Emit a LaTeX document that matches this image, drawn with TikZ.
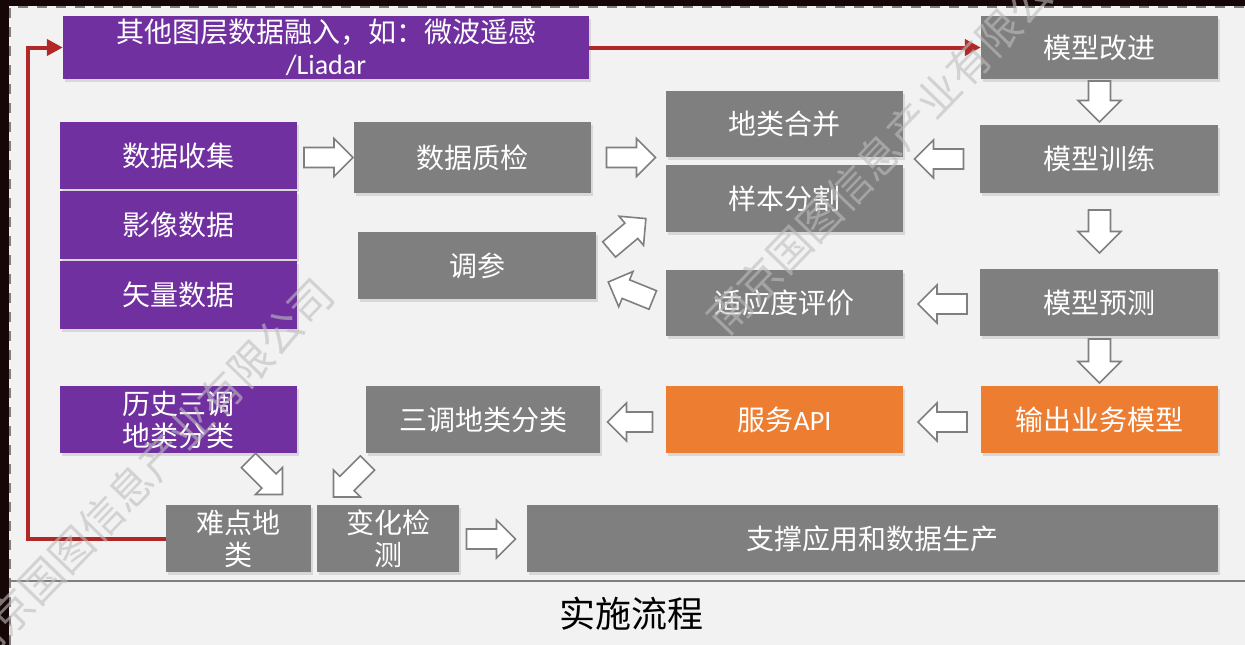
\documentclass[tikz,border=0pt]{standalone}
\usepackage{fontspec}
\setmainfont{Carlito}
\newfontfamily\cjk{Noto Sans CJK SC}
\newfontfamily\lat{Carlito}
\usetikzlibrary{arrows.meta,shadows}
\definecolor{bgc}{RGB}{242,242,242}
\definecolor{darkc}{RGB}{22,6,6}
\definecolor{boxgray}{RGB}{127,127,127}
\definecolor{boxpurple}{RGB}{112,48,160}
\definecolor{boxorange}{RGB}{237,125,49}
\definecolor{redc}{RGB}{176,40,40}
\definecolor{wmc}{RGB}{190,190,190}
\newcommand\blockarr[6]{%
  \draw[barrow, shift={(#1,#2)}, rotate=#3]
    (-#4/2,-#5) -- (#4/2-#6,-#5) -- (#4/2-#6,-#6) -- (#4/2,0) --
    (#4/2-#6,#6) -- (#4/2-#6,#5) -- (-#4/2,#5) -- cycle;}
\begin{document}
\begin{tikzpicture}[x=1pt,y=-1pt,
  box/.style={draw=none, text=white, align=center, inner sep=0pt,
    font=\cjk\fontsize{28}{32}\selectfont,
    drop shadow={shadow xshift=1.5pt,shadow yshift=-2.5pt,opacity=0.22}},
  graybox/.style={box, fill=boxgray},
  purplebox/.style={box, fill=boxpurple},
  orangebox/.style={box, fill=boxorange},
  barrow/.style={draw=boxgray, fill=white, line width=1.6pt, line join=miter},
  redline/.style={draw=redc, line width=4pt, -{Triangle[length=16pt,width=16pt]}},
  wm/.style={text=wmc, text opacity=0.6, inner sep=0pt, font=\cjk\fontsize{43}{43}\selectfont}]
\useasboundingbox (0,0) rectangle (1245,645);
\fill[darkc] (0,0) rectangle (1245,645);
\fill[bgc] (9,6) rectangle (1245,645);
\draw[boxgray, line width=2pt, dash pattern=on 10pt off 9pt] (10,645) -- (10,7) -- (1245,7);
\draw[boxgray, line width=2pt] (10,581) -- (1245,581);
\node[font=\cjk\fontsize{36}{40}\selectfont, inner sep=0pt] (title) at (631,614) {实施流程};

% nodes
\node[purplebox, minimum width=526, minimum height=63] (other) at (326,47.5) {其他图层数据融入，如：微波遥感\\{\lat /Liadar}};
\node[graybox, minimum width=237, minimum height=63] (mgj) at (1099.5,47.5) {模型改进};
\node[purplebox, minimum width=237, minimum height=67] (sjsj) at (178.5,155.5) {数据收集};
\node[purplebox, minimum width=237, minimum height=68] (yxsj) at (178.5,225) {影像数据};
\node[purplebox, minimum width=237, minimum height=68] (slsj) at (178.5,295) {矢量数据};
\node[graybox, minimum width=237, minimum height=71] (zj) at (472.5,157.5) {数据质检};
\node[graybox, minimum width=237, minimum height=66] (dlhb) at (784.5,124) {地类合并};
\node[graybox, minimum width=237, minimum height=67] (ybfg) at (784.5,198.5) {样本分割};
\node[graybox, minimum width=238, minimum height=68] (mxxl) at (1099,159) {模型训练};
\node[graybox, minimum width=238, minimum height=67] (tc) at (477,265.5) {调参};
\node[graybox, minimum width=237, minimum height=66] (sydpj) at (784.5,303) {适应度评价};
\node[graybox, minimum width=238, minimum height=67] (mxyc) at (1099,302.5) {模型预测};
\node[purplebox, minimum width=237, minimum height=67] (lssd) at (178.5,419.5) {历史三调\\地类分类};
\node[graybox, minimum width=234, minimum height=67] (sdfl) at (483,419.5) {三调地类分类};
\node[orangebox, minimum width=237, minimum height=67] (api) at (784.5,419.5) {服务{\lat API}};
\node[orangebox, minimum width=237, minimum height=67] (scmx) at (1099.5,419.5) {输出业务模型};
\node[graybox, minimum width=145, minimum height=67] (nd) at (238.5,538.5) {难点地\\类};
\node[graybox, minimum width=142, minimum height=67] (bhjc) at (388,538.5) {变化检\\测};
\node[graybox, minimum width=691, minimum height=67] (zc) at (872.5,538.5) {支撑应用和数据生产};

% block arrows
\blockarr{328.5}{157.5}{0}{49}{10}{19}
\blockarr{631}{157.5}{0}{49}{10}{19}
\blockarr{939}{159}{180}{49}{10}{19}
\blockarr{1099.5}{101.5}{-90}{41}{11}{21.5}
\blockarr{1099.5}{231.5}{-90}{43}{11}{21.5}
\blockarr{1099.5}{361}{-90}{44}{11}{21.5}
\blockarr{942.5}{304}{180}{49}{10}{19}
\blockarr{942.5}{422}{180}{49}{10}{19}
\blockarr{630}{422}{180}{45}{10}{19}
\blockarr{491}{539}{0}{49}{10}{19}
\blockarr{265.5}{477.5}{-45}{48}{10}{19}
\blockarr{350.5}{480}{225}{48}{10}{19}
\blockarr{627.5}{234}{40}{48}{10}{19}
\blockarr{630.5}{291}{158}{48}{10}{19}

% red connectors
\coordinate (c1) at (28,538.5);
\draw[redline] (nd.west) -- (c1) |- (other.west);
\draw[redline] (other.east) -- (mgj.west);

% watermark
\node[wm, rotate=46] (wm1) at (146,472) {南京国图信息产业有限公司};
\node[wm, rotate=46] (wm2) at (894,141) {南京国图信息产业有限公司};
\end{tikzpicture}
\end{document}
